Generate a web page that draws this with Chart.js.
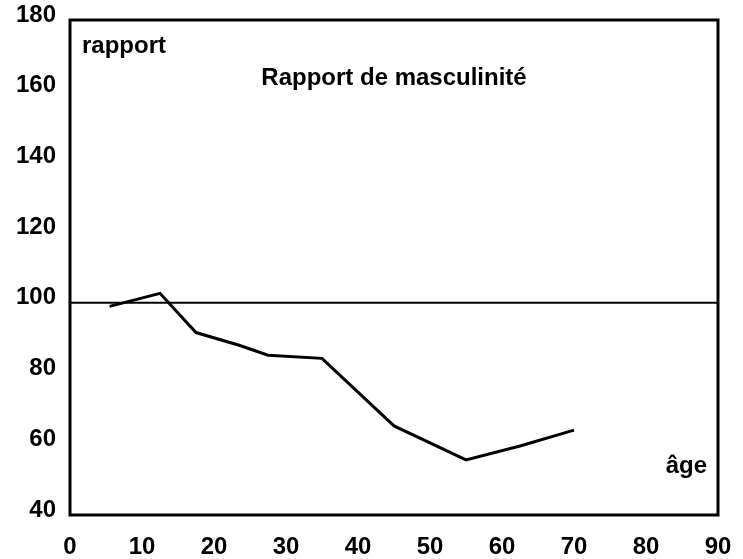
<!DOCTYPE html>
<html>
<head>
<meta charset="utf-8">
<script src="https://cdn.jsdelivr.net/npm/chart.js@4"></script>
<style>
  html, body { margin: 0; padding: 0; background: #fff; }
  #wrap { width: 743px; height: 559px; }
</style>
</head>
<body>
<div id="wrap"><canvas id="chart" width="743" height="559"></canvas></div>
<script>
const ages = [5.5, 12.5, 17.5, 23.5, 27.5, 35, 45, 55, 62.5, 70];
const ratio = [99, 102.7, 91.6, 88, 85.2, 84.3, 65.2, 55.6, 59.5, 64];
const refAges = [0, 90];
const refValues = [100, 100];
const xTicks = [0, 10, 20, 30, 40, 50, 60, 70, 80, 90];
const yTicks = [40, 60, 80, 100, 120, 140, 160, 180];

const FONT = "'Liberation Sans', Arial, sans-serif";

// box around the plot + text labels inside it
const frame = {
  id: 'frame',
  afterDraw(chart) {
    const { ctx, chartArea: a } = chart;
    ctx.save();
    ctx.strokeStyle = '#000';
    ctx.lineWidth = 3;
    ctx.strokeRect(a.left, a.top, a.right - a.left, a.bottom - a.top);

    ctx.fillStyle = '#000';
    ctx.font = 'bold 24px ' + FONT;
    ctx.textBaseline = 'alphabetic';
    ctx.textAlign = 'left';
    ctx.fillText('rapport', a.left + 12, 53);
    ctx.textAlign = 'center';
    ctx.fillText('Rapport de masculinité', (a.left + a.right) / 2, 85);
    ctx.textAlign = 'right';
    ctx.fillText('âge', a.right - 11, 473);
    ctx.restore();
  }
};

new Chart(document.getElementById('chart').getContext('2d'), {
  type: 'line',
  data: {
    datasets: [
      {
        label: 'Rapport de masculinité',
        data: ages.map((a, i) => ({ x: a, y: ratio[i] })),
        borderColor: '#000',
        borderWidth: 3,
        pointRadius: 0,
        tension: 0,
        fill: false
      },
      {
        label: '100',
        data: refAges.map((a, i) => ({ x: a, y: refValues[i] })),
        borderColor: '#000',
        borderWidth: 2,
        pointRadius: 0,
        fill: false
      }
    ]
  },
  options: {
    responsive: false,
    animation: false,
    layout: { padding: { top: 20, right: 25, left: 0, bottom: 0 } },
    plugins: {
      legend: { display: false },
      tooltip: { enabled: false }
    },
    scales: {
      x: {
        type: 'linear',
        min: 0,
        max: 90,
        afterBuildTicks: s => { s.ticks = xTicks.map(v => ({ value: v })); },
        afterFit: s => { s.height = 44; s.paddingLeft = 0; s.paddingRight = 0; },
        grid: { display: false, drawTicks: false },
        border: { display: false },
        ticks: {
          padding: 18,
          color: '#000',
          font: { family: FONT, size: 24, weight: 'bold' },
          maxRotation: 0
        }
      },
      y: {
        min: 40,
        max: 180,
        afterBuildTicks: s => { s.ticks = yTicks.map(v => ({ value: v })); },
        afterFit: s => { s.width = 70; s.paddingTop = 0; s.paddingBottom = 0; },
        grid: { display: false, drawTicks: false },
        border: { display: false },
        ticks: {
          padding: 14,
          labelOffset: -5,
          color: '#000',
          font: { family: FONT, size: 24, weight: 'bold' }
        }
      }
    }
  },
  plugins: [frame]
});
</script>
</body>
</html>
